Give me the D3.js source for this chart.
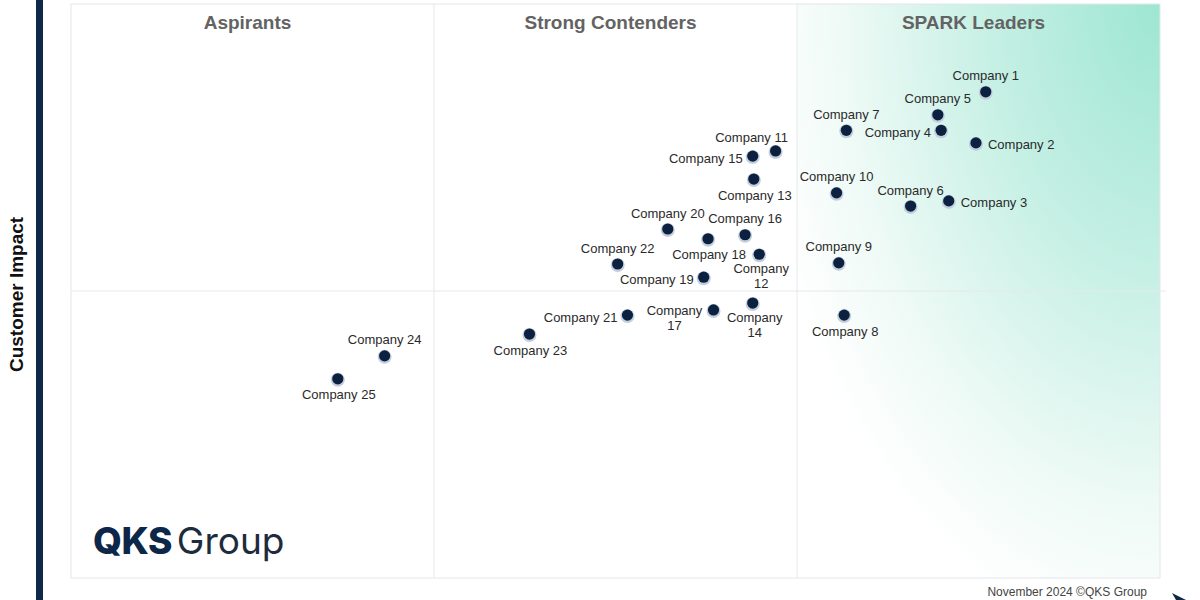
<!DOCTYPE html>
<html>
<head>
<meta charset=utf-8 />
<title>SPARK Matrix</title>
<style type="text/css">
 body { margin:0; background:#fff; }
 svg { display:block; }
</style>
<script src="https://d3js.org/d3.v7.min.js"></script>
</head>
<body>
<div id="chart-container"></div>
</body>
<script>

// company names, x = technology excellence, y = customer impact (0-100)
var companies = ["Company 1","Company 2","Company 3","Company 4","Company 5","Company 6","Company 7",
  "Company 8","Company 9","Company 10","Company 11","Company 12","Company 13","Company 14","Company 15",
  "Company 16","Company 17","Company 18","Company 19","Company 20","Company 21","Company 22",
  "Company 23","Company 24","Company 25"];
var techScore = [84.0, 83.1, 80.6, 79.9, 79.6, 77.1, 71.2, 71.0, 70.5, 70.3, 64.7, 63.2, 62.7,
  62.6, 62.6, 61.9, 59.0, 58.5, 58.1, 54.8, 51.1, 50.2, 42.1, 28.8, 24.5];
var impactScore = [84.7, 75.8, 65.7, 78.0, 80.7, 64.8, 78.0, 45.8, 54.9, 67.1, 74.4, 56.4, 69.5,
  47.9, 73.5, 59.8, 46.7, 59.1, 52.4, 60.8, 45.8, 54.7, 42.5, 38.7, 34.7];
// where each label sits around its dot
var labelSide = ["top","right","right","left","top","top","top","bottom","top","top","topleft",
  "bottom","bottom","bottom","left","top","left","bottom","left","top","left","top","bottom","top","bottom"];
// labels that break onto two lines
var wrapped = ["Company 12","Company 14","Company 17"];

var quadrants = ["Aspirants","Strong Contenders","SPARK Leaders"];
var quadrantBreaks = [0, 33.33, 66.67, 100];

var width = 1200, height = 600;
var plot = {left: 71, right: 1160, top: 4, bottom: 578};

var svg = d3.select("#chart-container")
  .append("svg")
    .attr("width", width)
    .attr("height", height);

var x = d3.scaleLinear().domain([0, 100]).range([plot.left, plot.right]);
var y = d3.scaleLinear().domain([0, 100]).range([plot.bottom, plot.top]);

// leaders gradient, strongest in the top right corner
var defs = svg.append("defs");
var grad = defs.append("radialGradient")
    .attr("id", "leaderGrad")
    .attr("cx", 1).attr("cy", 0)
    .attr("fx", 1).attr("fy", 0)
    .attr("r", 1.25);
grad.append("stop").attr("offset", 0).attr("stop-color", "#9de6d2");
grad.append("stop").attr("offset", 0.35).attr("stop-color", "#c3efe3");
grad.append("stop").attr("offset", 0.7).attr("stop-color", "#eefaf6");
grad.append("stop").attr("offset", 0.9).attr("stop-color", "#ffffff");

svg.append("rect")
    .attr("x", x(quadrantBreaks[2]))
    .attr("y", y(100))
    .attr("width", x(100) - x(quadrantBreaks[2]))
    .attr("height", y(0) - y(100))
    .attr("fill", "url(#leaderGrad)");

// frame + dividers
svg.append("rect")
    .attr("x", x(0)).attr("y", y(100))
    .attr("width", x(100) - x(0))
    .attr("height", y(0) - y(100))
    .attr("fill", "none")
    .attr("stroke", "#e4e6e8")
    .attr("stroke-width", 1);

svg.selectAll(".vdiv")
  .data(quadrantBreaks.slice(1, 3))
  .enter()
  .append("line")
    .attr("class", "vdiv")
    .attr("x1", d => x(d)).attr("x2", d => x(d))
    .attr("y1", y(100)).attr("y2", y(0))
    .attr("stroke", "#e6e8ea");

svg.append("line")
    .attr("x1", x(0)).attr("x2", x(100) + 6)
    .attr("y1", y(50)).attr("y2", y(50))
    .attr("stroke", "#e6e8ea");

// quadrant titles
svg.selectAll(".qtitle")
  .data(quadrants)
  .enter()
  .append("text")
    .attr("class", "qtitle")
    .attr("x", (d, i) => (x(quadrantBreaks[i]) + x(quadrantBreaks[i + 1])) / 2 - 5)
    .attr("y", 29)
    .attr("text-anchor", "middle")
    .attr("font-family", "Liberation Sans, Arial, sans-serif")
    .attr("font-weight", "bold")
    .attr("font-size", "19px")
    .attr("fill", "#636363")
    .text(d => d);

// left axis bar and label
svg.append("rect")
    .attr("x", 36).attr("y", 0)
    .attr("width", 7).attr("height", height)
    .attr("fill", "#0e2847");

svg.append("text")
    .attr("transform", "translate(23," + y(49.4) + ") rotate(-90)")
    .attr("text-anchor", "middle")
    .attr("font-family", "Liberation Sans, Arial, sans-serif")
    .attr("font-weight", "bold")
    .attr("font-size", "19px")
    .attr("fill", "#111")
    .text("Customer Impact");

// bottom axis arrow tip (mostly cut off)
svg.append("path")
    .attr("d", "M1172,593 L1186,600 L1176,600 Z")
    .attr("fill", "#0e2847");

// points
var data = companies.map(function(c, i) {
  return {name: c, tx: techScore[i], ci: impactScore[i], side: labelSide[i]};
});

var g = svg.append("g");

g.selectAll(".halo")
  .data(data)
  .enter()
  .append("circle")
    .attr("class", "halo")
    .attr("cx", d => x(d.tx))
    .attr("cy", d => y(d.ci) + 1)
    .attr("r", 7)
    .attr("fill", "#c3cedd");

g.selectAll(".dot")
  .data(data)
  .enter()
  .append("circle")
    .attr("class", "dot")
    .attr("cx", d => x(d.tx))
    .attr("cy", d => y(d.ci))
    .attr("r", 5.6)
    .attr("fill", "#0c2140");

var offsets = {
  top:     {dx: 0,   dy: -16, anchor: "middle"},
  bottom:  {dx: 1,   dy: 16,  anchor: "middle"},
  left:    {dx: -10, dy: 2,   anchor: "end"},
  right:   {dx: 12,  dy: 2,   anchor: "start"},
  topleft: {dx: -24, dy: -13, anchor: "middle"}
};

var labels = g.selectAll(".label")
  .data(data)
  .enter()
  .append("text")
    .attr("class", "label")
    .attr("font-family", "Liberation Sans, Arial, sans-serif")
    .attr("font-size", "13px")
    .attr("fill", "#2a2a2a")
    .attr("text-anchor", function(d) {
      return wrapped.indexOf(d.name) >= 0 ? "middle" : offsets[d.side].anchor;
    });

labels.each(function(d) {
  var o = offsets[d.side];
  var el = d3.select(this);
  var px = x(d.tx), py = y(d.ci);
  if (wrapped.indexOf(d.name) >= 0) {
    var parts = d.name.split(" ");
    var cx = d.side == "left" ? px - 39 : px + 2;
    var cy = d.side == "left" ? py + 1 : py + 14;
    parts.forEach(function(p, k) {
      el.append("tspan")
        .attr("x", cx)
        .attr("y", cy + k * 15)
        .attr("dy", "0.35em")
        .text(p);
    });
  } else {
    el.attr("x", px + o.dx)
      .attr("y", py + o.dy)
      .attr("dy", "0.35em")
      .text(d.name);
  }
});

// logo
var logo = svg.append("text")
    .attr("x", 93)
    .attr("y", 554)
    .attr("font-family", "Inter, Lato, sans-serif")
    .attr("font-size", "37px");
logo.append("tspan")
    .attr("font-weight", 800)
    .attr("fill", "#0d2748")
    .attr("letter-spacing", "-0.5px")
    .text("QKS");
logo.append("tspan")
    .attr("dx", 5)
    .attr("font-weight", 400)
    .attr("fill", "#1d2b3c")
    .text("Group");

svg.append("text")
    .attr("x", 1147)
    .attr("y", 596)
    .attr("text-anchor", "end")
    .attr("font-family", "Liberation Sans, Arial, sans-serif")
    .attr("font-size", "12px")
    .attr("fill", "#444")
    .text("November 2024 \u00a9QKS Group");

</script>
</html>
